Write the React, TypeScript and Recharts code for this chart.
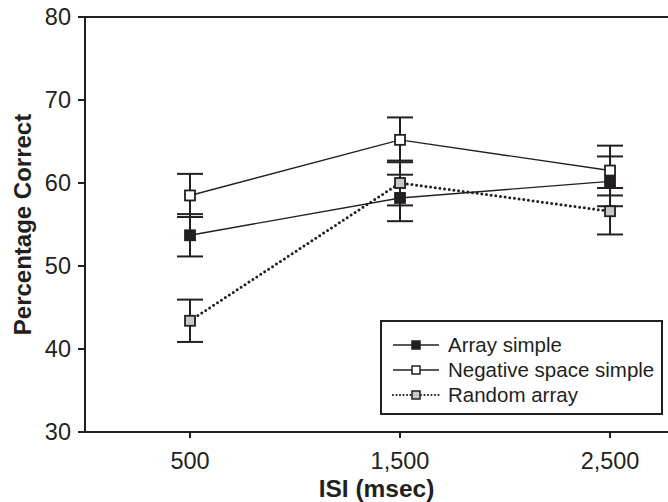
import React from 'react';
import {
  LineChart,
  Line,
  XAxis,
  YAxis,
  ErrorBar,
  Legend,
  ReferenceLine
} from 'recharts';

// ISI values (msec)
const isiValues = [500, 1500, 2500];

const arraySimple = [53.7, 58.2, 60.2];
const arraySimpleErr = [2.55, 2.8, 3.0];

const negativeSpace = [58.5, 65.2, 61.5];
const negativeSpaceErr = [2.6, 2.7, 3.0];

const randomArray = [43.4, 60.0, 56.6];
const randomArrayErr = [2.55, 2.7, 2.8];

const yTicks = [30, 40, 50, 60, 70, 80];
const xTicks = [500, 1500, 2500];

const data = isiValues.map((isi, i) => ({
  isi,
  array: arraySimple[i],
  arrayErr: arraySimpleErr[i],
  neg: negativeSpace[i],
  negErr: negativeSpaceErr[i],
  rand: randomArray[i],
  randErr: randomArrayErr[i],
}));

const INK = '#231f20';
const FONT = '"Liberation Sans", Arial, Helvetica, sans-serif';

const series = [
  { key: 'array', name: 'Array simple', fill: INK, dotted: false },
  { key: 'neg', name: 'Negative space simple', fill: '#ffffff', dotted: false },
  { key: 'rand', name: 'Random array', fill: '#c8c8c8', dotted: true },
];

const squareDot = (fill: string, size: number) => (props: any) => {
  const { cx, cy, index } = props;
  if (cx == null || cy == null) return <g key={index} />;
  return (
    <rect
      key={index}
      x={cx - size / 2}
      y={cy - size / 2}
      width={size}
      height={size}
      fill={fill}
      stroke={INK}
      strokeWidth={1.8}
    />
  );
};

const LegendBox = () => (
  <div
    style={{
      boxSizing: 'border-box',
      width: 283,
      height: 95,
      border: `2px solid ${INK}`,
      background: '#fff',
      padding: '10px 0 0 10px',
      fontFamily: FONT,
      fontSize: 20.5,
      color: INK,
    }}
  >
    {series.map((s) => (
      <div key={s.key} style={{ display: 'flex', alignItems: 'center', height: 25 }}>
        <svg width={48} height={14} style={{ marginRight: 8 }}>
          <line
            x1={1}
            y1={7}
            x2={47}
            y2={7}
            stroke={INK}
            strokeWidth={s.dotted ? 2.2 : 1.6}
            strokeDasharray={s.dotted ? '0 3.5' : undefined}
            strokeLinecap={s.dotted ? 'round' : 'butt'}
          />
          <rect x={20} y={3} width={8} height={8} fill={s.fill} stroke={INK} strokeWidth={1.5} />
        </svg>
        <span style={{ lineHeight: '25px' }}>{s.name}</span>
      </div>
    ))}
  </div>
);

const App = () => {
  return (
    <div style={{ position: 'absolute', left: 0, top: 0, background: '#fff' }}>
      <LineChart
        width={668}
        height={502}
        data={data}
        margin={{ top: 17, right: 0, left: 0, bottom: 0 }}
      >
        <XAxis
          dataKey="isi"
          type="number"
          domain={[0, 2776]}
          ticks={xTicks}
          tickFormatter={(v: number) => v.toLocaleString('en-US')}
          height={70}
          stroke={INK}
          strokeWidth={2}
          tickSize={6}
          tickMargin={14}
          tick={{ fill: INK, fontSize: 23.5, fontFamily: FONT }}
          label={{
            value: 'ISI (msec)',
            position: 'insideBottom',
            offset: 5,
            style: { fill: INK, fontSize: 24.5, fontWeight: 'bold', fontFamily: FONT },
          }}
        />
        <YAxis
          domain={[30, 80]}
          ticks={yTicks}
          width={85}
          stroke={INK}
          strokeWidth={2}
          tickSize={7}
          tickMargin={7}
          tick={{ fill: INK, fontSize: 23.5, fontFamily: FONT }}
          label={{
            value: 'Percentage Correct',
            angle: -90,
            position: 'insideLeft',
            offset: 22,
            style: { textAnchor: 'middle', fill: INK, fontSize: 24, fontWeight: 'bold', fontFamily: FONT },
          }}
        />
        <ReferenceLine y={80} stroke={INK} strokeWidth={2} />
        <Legend
          layout="vertical"
          align="center"
          verticalAlign="middle"
          content={() => <LegendBox />}
          wrapperStyle={{ left: 380, top: 320, width: 283, height: 95 }}
        />
        <Line
          dataKey="rand"
          name="Random array"
          stroke={INK}
          strokeWidth={3}
          strokeDasharray="0 4.7"
          strokeLinecap="round"
          dot={squareDot('#c8c8c8', 10)}
          activeDot={false}
          isAnimationActive={false}
        >
          <ErrorBar dataKey="randErr" width={13} strokeWidth={2} stroke={INK} direction="y" />
        </Line>
        <Line
          dataKey="array"
          name="Array simple"
          stroke={INK}
          strokeWidth={1.4}
          dot={squareDot(INK, 10)}
          activeDot={false}
          isAnimationActive={false}
        >
          <ErrorBar dataKey="arrayErr" width={13} strokeWidth={2} stroke={INK} direction="y" />
        </Line>
        <Line
          dataKey="neg"
          name="Negative space simple"
          stroke={INK}
          strokeWidth={1.4}
          dot={squareDot('#ffffff', 10)}
          activeDot={false}
          isAnimationActive={false}
        >
          <ErrorBar dataKey="negErr" width={13} strokeWidth={2} stroke={INK} direction="y" />
        </Line>
      </LineChart>
    </div>
  );
};

export default App;
